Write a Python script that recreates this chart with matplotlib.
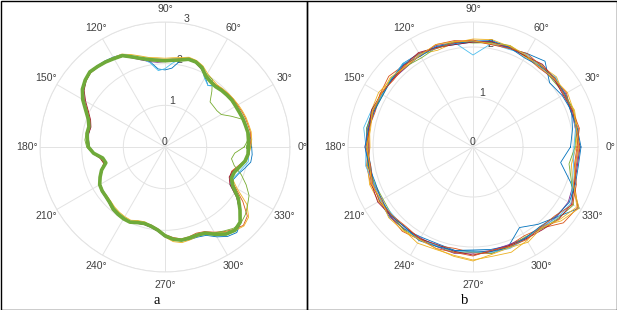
import numpy as np
import matplotlib
matplotlib.use("Agg")
import matplotlib.pyplot as plt
from matplotlib.patches import Rectangle

# ---------------- data ----------------
# panel a: angle grid (deg, every 5 deg), mean contour + individual contours
angles_a = list(range(0, 360, 5))
mean_a = [2.00,2.01,2.02,2.00,1.99,1.97,1.96,1.96,1.94,1.92,
          1.89,1.91,1.96,2.10,2.17,2.18,2.12,2.09,2.07,2.09,
          2.13,2.20,2.30,2.42,2.45,2.49,2.52,2.55,2.50,2.42,
          2.28,2.10,1.96,1.89,1.90,1.87,1.84,1.72,1.52,1.47,
          1.62,1.72,1.81,1.84,1.85,1.88,1.94,1.97,1.99,1.99,
          1.93,1.90,1.93,2.00,2.13,2.22,2.27,2.26,2.25,2.28,
          2.42,2.55,2.61,2.55,2.35,2.15,1.88,1.76,1.77,1.85,
          1.95,2.00]
blue_a = [2.08,2.07,2.04,2.00,1.98,1.97,1.97,1.95,1.93,1.95,
          1.93,1.80,1.93,2.08,2.16,2.17,2.10,1.90,1.85,1.88,
          2.08,2.18,2.30,2.45,2.49,2.52,2.54,2.56,2.49,2.40,
          2.28,2.08,1.95,1.88,1.87,1.84,1.83,1.70,1.50,1.46,
          1.60,1.71,1.80,1.84,1.87,1.89,1.95,1.98,2.00,1.99,
          1.95,1.92,1.95,2.01,2.14,2.24,2.29,2.30,2.30,2.34,
          2.49,2.62,2.68,2.57,2.36,2.12,1.84,1.82,1.88,1.98,
          2.09,2.10]
orange_a = [2.04,2.07,2.08,2.06,2.05,2.03,2.01,2.00,1.98,1.96,
            1.93,1.94,1.99,2.12,2.20,2.21,2.15,2.12,2.10,2.12,
            2.14,2.22,2.30,2.40,2.44,2.48,2.50,2.52,2.48,2.40,
            2.25,2.06,1.92,1.87,1.88,1.86,1.83,1.70,1.55,1.50,
            1.60,1.70,1.79,1.82,1.83,1.86,1.92,1.95,1.97,1.98,
            1.92,1.88,1.90,1.97,2.10,2.18,2.24,2.23,2.20,2.24,
            2.36,2.48,2.58,2.66,2.58,2.28,1.95,1.72,1.70,1.80,
            1.93,2.00]
yellow_a = [2.06,2.09,2.10,2.08,2.07,2.05,2.03,2.01,1.99,1.97,
            1.95,1.98,2.04,2.15,2.21,2.23,2.18,2.15,2.13,2.15,
            2.18,2.26,2.36,2.46,2.48,2.51,2.53,2.55,2.49,2.40,
            2.24,2.04,1.92,1.86,1.88,1.85,1.82,1.72,1.56,1.52,
            1.63,1.73,1.80,1.83,1.82,1.84,1.88,1.91,1.93,1.94,
            1.88,1.86,1.92,2.00,2.16,2.28,2.33,2.31,2.28,2.30,
            2.38,2.50,2.62,2.68,2.62,2.40,2.00,1.78,1.74,1.82,
            1.94,2.02]
purple_a = [2.02,2.02,2.01,1.99,1.97,1.96,1.95,1.94,1.93,1.91,
            1.88,1.90,1.95,2.06,2.15,2.17,2.13,2.08,2.05,2.04,
            2.08,2.16,2.27,2.40,2.44,2.48,2.51,2.53,2.48,2.38,
            2.24,2.07,1.93,1.85,1.86,1.84,1.81,1.70,1.52,1.48,
            1.64,1.73,1.82,1.86,1.87,1.90,1.96,1.99,2.00,2.00,
            1.95,1.93,1.96,2.03,2.16,2.24,2.28,2.26,2.24,2.27,
            2.40,2.53,2.60,2.54,2.33,2.10,1.82,1.72,1.74,1.84,
            1.96,2.01]
green_a = [1.90,2.00,2.02,2.00,1.96,1.75,1.56,1.52,1.52,1.53,
           1.75,1.98,2.01,2.09,2.16,2.17,2.12,2.10,2.08,2.10,
           2.14,2.20,2.30,2.41,2.44,2.48,2.51,2.53,2.49,2.41,
           2.28,2.12,1.98,1.90,1.92,1.93,1.88,1.74,1.54,1.48,
           1.60,1.70,1.79,1.82,1.83,1.85,1.90,1.93,1.95,1.97,
           1.92,1.89,1.92,1.99,2.12,2.20,2.25,2.26,2.27,2.31,
           2.38,2.46,2.55,2.58,2.52,2.42,2.33,2.15,1.95,1.72,
           1.62,1.68]
lightblue_a = [2.03,2.03,2.02,2.00,1.99,1.98,1.96,1.95,1.94,1.93,
               1.90,1.80,1.90,2.09,2.17,2.19,2.14,2.02,1.88,1.84,
               2.05,2.21,2.33,2.45,2.46,2.48,2.50,2.53,2.49,2.41,
               2.27,2.10,1.97,1.90,1.86,1.85,1.85,1.73,1.51,1.47,
               1.62,1.72,1.82,1.86,1.87,1.87,1.96,1.99,2.00,1.98,
               1.94,1.91,1.94,2.00,2.12,2.21,2.27,2.27,2.26,2.32,
               2.45,2.58,2.63,2.55,2.33,2.10,1.80,1.80,1.86,1.93,
               2.03,2.02]
red_a = [2.03,2.03,2.02,2.01,2.00,1.99,1.98,1.97,1.95,1.93,
         1.90,1.92,1.97,2.08,2.16,2.19,2.14,2.10,2.08,2.10,
         2.14,2.21,2.31,2.41,2.44,2.47,2.51,2.53,2.47,2.37,
         2.20,2.03,1.90,1.84,1.86,1.86,1.84,1.74,1.58,1.52,
         1.63,1.72,1.81,1.85,1.86,1.90,1.96,1.98,1.99,2.00,
         1.94,1.92,1.95,2.02,2.15,2.23,2.28,2.27,2.26,2.29,
         2.44,2.57,2.62,2.56,2.34,2.10,1.80,1.70,1.72,1.83,
         1.97,2.02]

# panel b: angle grid (deg, every 10 deg)
angles_b = list(range(0, 360, 10))
b1 = [1.95,2.02,2.10,2.06,2.00,2.24,2.16,2.10,2.12,2.10,
      2.08,2.12,2.16,2.18,2.12,2.10,2.14,2.16,2.12,2.08,
      2.12,2.16,2.18,2.14,2.08,2.06,2.10,2.06,2.08,2.10,
      1.86,2.02,2.18,2.45,2.08,1.78]
b2 = [2.10,2.14,2.08,2.16,2.12,2.06,2.10,2.14,2.08,2.12,
      2.16,2.18,2.10,2.14,2.20,2.14,2.08,2.12,2.10,2.16,
      2.18,2.12,2.16,2.20,2.14,2.10,2.06,2.12,2.16,2.10,
      2.05,2.12,2.36,2.42,2.16,2.08]
b3 = [2.06,2.12,2.16,2.10,2.18,2.12,2.08,2.14,2.18,2.16,
      2.12,2.06,2.14,2.08,2.12,2.18,2.16,2.10,2.06,2.14,
      2.20,2.18,2.12,2.16,2.22,2.18,2.20,2.26,2.22,2.24,
      2.16,2.08,2.30,2.45,2.12,2.00]
b4 = [2.12,2.08,2.10,2.14,2.10,2.08,2.12,2.10,2.14,2.10,
      2.12,2.16,2.12,2.08,2.10,2.12,2.10,2.14,2.16,2.10,
      2.12,2.10,2.16,2.14,2.10,2.12,2.16,2.12,2.10,2.08,
      2.10,2.12,2.18,2.20,2.14,2.10]
b5 = [2.04,2.10,2.14,2.12,2.08,2.14,2.10,2.16,2.12,2.08,
      2.14,2.12,2.06,2.10,2.14,2.08,2.12,2.16,2.10,2.14,
      2.10,2.08,2.12,2.16,2.12,2.10,2.14,2.10,2.16,2.12,
      2.08,2.14,2.22,2.32,2.10,1.95]
b6 = [2.02,2.08,2.12,2.10,2.16,2.10,2.14,2.08,2.10,1.84,
      2.12,2.10,2.14,2.18,2.12,2.10,2.16,2.22,2.14,2.18,
      2.12,2.14,2.10,2.12,2.14,2.10,2.12,2.10,2.14,2.16,
      2.12,2.10,2.20,2.26,2.12,2.04]
b7 = [2.14,2.10,2.12,2.08,2.12,2.16,2.10,2.12,2.14,2.10,
      2.08,2.12,2.18,2.14,2.10,2.12,2.16,2.12,2.08,2.12,
      2.16,2.20,2.14,2.10,2.12,2.08,2.12,2.16,2.12,2.10,
      2.12,2.16,2.24,2.28,2.16,2.12]
b8 = [2.16,2.12,2.08,2.12,2.14,2.10,2.06,2.12,2.16,2.12,
      2.10,2.14,2.10,2.16,2.12,2.08,2.10,2.12,2.16,2.12,
      2.08,2.12,2.14,2.10,2.16,2.12,2.10,2.08,2.12,2.14,
      2.10,2.08,2.16,2.22,2.18,2.14]
b9 = [2.08,2.16,2.12,2.10,2.14,2.12,2.16,2.10,2.08,2.14,
      2.12,2.10,2.16,2.12,2.08,2.14,2.12,2.10,2.14,2.08,
      2.14,2.16,2.12,2.08,2.12,2.16,2.14,2.18,2.10,2.12,
      2.14,2.10,2.14,2.30,2.20,2.06]
b10 = [2.12,2.10,2.14,2.18,2.12,2.08,2.12,2.16,2.10,2.12,
       2.14,2.18,2.12,2.10,2.16,2.12,2.14,2.08,2.12,2.10,
       2.16,2.12,2.20,2.18,2.14,2.16,2.22,2.28,2.18,2.14,
       2.20,2.12,2.26,2.40,2.14,2.08]

theta_ticks = list(range(0, 360, 30))
theta_labels = [f"{t}\u00b0" for t in theta_ticks]
rticks_a = [0, 1, 2, 3]
rticks_b = [0, 1, 2]
panel_labels = ["a", "b"]

C_BLUE = "#0072BD"; C_ORANGE = "#D95319"; C_YELLOW = "#EDB120"
C_PURPLE = "#7E2F8E"; C_GREEN = "#77AC30"; C_LBLUE = "#4DBEEE"; C_RED = "#A2142F"

# ---------------- figure ----------------
W, H = 617, 310
fig = plt.figure(figsize=(W / 100, H / 100), dpi=100)
fig.patch.set_facecolor("white")
plt.rcParams["font.family"] = ["Liberation Sans", "DejaVu Sans"]

R_PX = 125.0
def make_ax(cx, cy):
    ax = fig.add_axes([(cx - R_PX) / W, (H - cy - R_PX) / H, 2 * R_PX / W, 2 * R_PX / H],
                      projection="polar")
    return ax

def close(ang, vals):
    th = np.deg2rad(list(ang) + [ang[0]])
    return th, list(vals) + [vals[0]]

def style(ax, rmax, rticks):
    ax.set_ylim(0, rmax)
    ax.set_thetagrids(theta_ticks, theta_labels)
    ax.set_yticks(rticks)
    ax.set_yticklabels([str(t) for t in rticks])
    ax.set_rlabel_position(80)
    ax.grid(True, color="#e3e3e3", linewidth=0.7)
    ax.spines["polar"].set_color("#e3e3e3")
    ax.spines["polar"].set_linewidth(0.7)
    ax.tick_params(axis="x", labelsize=7.6, colors="#404040", pad=-1.5)
    ax.tick_params(axis="y", labelsize=7.6, colors="#404040")
    for lab in ax.get_yticklabels():
        lab.set_horizontalalignment("center")

# panel a
axa = make_ax(165.0, 147.0)
thin_a = [(blue_a, C_BLUE), (orange_a, C_ORANGE), (yellow_a, C_YELLOW),
          (purple_a, C_PURPLE), (green_a, C_GREEN), (lightblue_a, C_LBLUE), (red_a, C_RED)]
for vals, c in thin_a:
    th, r = close(angles_a, vals)
    axa.plot(th, r, color=c, linewidth=0.6, zorder=3)
th, r = close(angles_a, mean_a)
axa.plot(th, r, color="#6FAA3A", linewidth=2.6, zorder=4, solid_joinstyle="round")
style(axa, 3, rticks_a)

# panel b
axb = make_ax(473.0, 147.0)
thin_b = [(b1, C_BLUE), (b2, C_ORANGE), (b3, C_YELLOW), (b4, C_PURPLE), (b5, C_GREEN),
          (b6, C_LBLUE), (b7, C_RED), (b8, C_BLUE), (b9, C_ORANGE), (b10, C_YELLOW)]
for vals, c in thin_b:
    th, r = close(angles_b, vals)
    axb.plot(th, r, color=c, linewidth=0.6, zorder=3)
style(axb, 2.5, rticks_b)

# panel frames and labels
fig.add_artist(Rectangle((0.5 / W, 0.5 / H), 306.5 / W, (H - 1) / H, transform=fig.transFigure,
                         fill=False, edgecolor="black", linewidth=1.0))
fig.add_artist(Rectangle((307 / W, 0.5 / H), 309.5 / W, (H - 1) / H, transform=fig.transFigure,
                         fill=False, edgecolor="black", linewidth=1.0))
fig.text(157 / W, 1 - 301 / H, panel_labels[0], ha="center", va="center",
         fontsize=10.5, family=["Liberation Serif", "DejaVu Serif"])
fig.text(465 / W, 1 - 301 / H, panel_labels[1], ha="center", va="center",
         fontsize=10.5, family=["Liberation Serif", "DejaVu Serif"])

fig.savefig("out.png", dpi=100)
